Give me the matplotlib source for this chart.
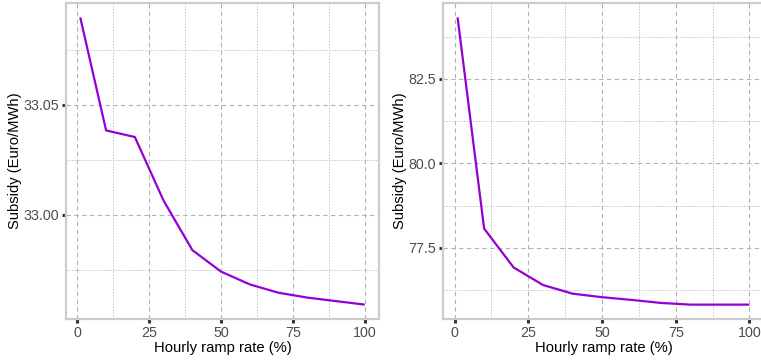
import matplotlib
matplotlib.use("Agg")
import matplotlib.pyplot as plt
from matplotlib.ticker import MultipleLocator, FixedLocator

plt.rcParams['font.family'] = ['Liberation Sans', 'DejaVu Sans']

ramp_rate = [1, 10, 20, 30, 40, 50, 60, 70, 80, 90, 100]
subsidy_a = [33.0898, 33.0384, 33.0354, 33.0065, 32.9840, 32.9742,
             32.9684, 32.9646, 32.9624, 32.9608, 32.9592]
subsidy_b = [84.32, 78.07, 76.92, 76.40, 76.145, 76.04,
             75.96, 75.87, 75.82, 75.82, 75.82]

x_ticks = [0, 25, 50, 75, 100]
y_ticks_a = [33.00, 33.05]
y_ticks_b = [77.5, 80.0, 82.5]
line_color = '#9400D3'

W, H = 761, 361
fig = plt.figure(figsize=(W / 100, H / 100), dpi=100)


def expand(vals, frac=0.05):
    lo, hi = min(vals), max(vals)
    pad = (hi - lo) * frac
    return lo - pad, hi + pad


def panel(rect_px, y, yticks, minor_step, fmt):
    x0, x1, y0, y1 = rect_px
    ax = fig.add_axes([x0 / W, 1 - y1 / H, (x1 - x0) / W, (y1 - y0) / H])
    ax.plot(ramp_rate, y, color=line_color, lw=1.6, solid_capstyle='butt', zorder=3)
    ax.set_xlim(*expand(ramp_rate))
    ax.set_ylim(*expand(y))
    ax.xaxis.set_major_locator(FixedLocator(x_ticks))
    ax.xaxis.set_minor_locator(FixedLocator([12.5, 37.5, 62.5, 87.5]))
    ax.yaxis.set_major_locator(FixedLocator(yticks))
    ax.yaxis.set_minor_locator(MultipleLocator(minor_step))
    ax.set_yticklabels([fmt.format(v) for v in yticks])
    ax.set_xticklabels([str(v) for v in x_ticks])
    ax.grid(which='major', color='#b3b3b3', ls=(0, (4, 3)), lw=0.8)
    ax.grid(which='minor', color='#c4c4c4', ls=(0, (1.5, 1.5)), lw=0.7)
    ax.set_axisbelow(True)
    for s in ax.spines.values():
        s.set_color('#cccccc')
        s.set_linewidth(1.6)
    ax.tick_params(which='major', length=3, width=2.2, color='#333333',
                   labelcolor='#4d4d4d', labelsize=10.3, pad=2)
    ax.tick_params(which='minor', length=0)
    ax.set_xlabel('Hourly ramp rate (%)', fontsize=10.6, color='black', labelpad=1)
    ax.set_ylabel('Subsidy (Euro/MWh)', fontsize=10.6, color='black', labelpad=1)
    return ax


panel((66, 379, 3, 319), subsidy_a, y_ticks_a, 0.025, '{:.2f}')
panel((443, 764, 3, 319), subsidy_b, y_ticks_b, 1.25, '{:.1f}')

fig.savefig('out.png', dpi=100)
